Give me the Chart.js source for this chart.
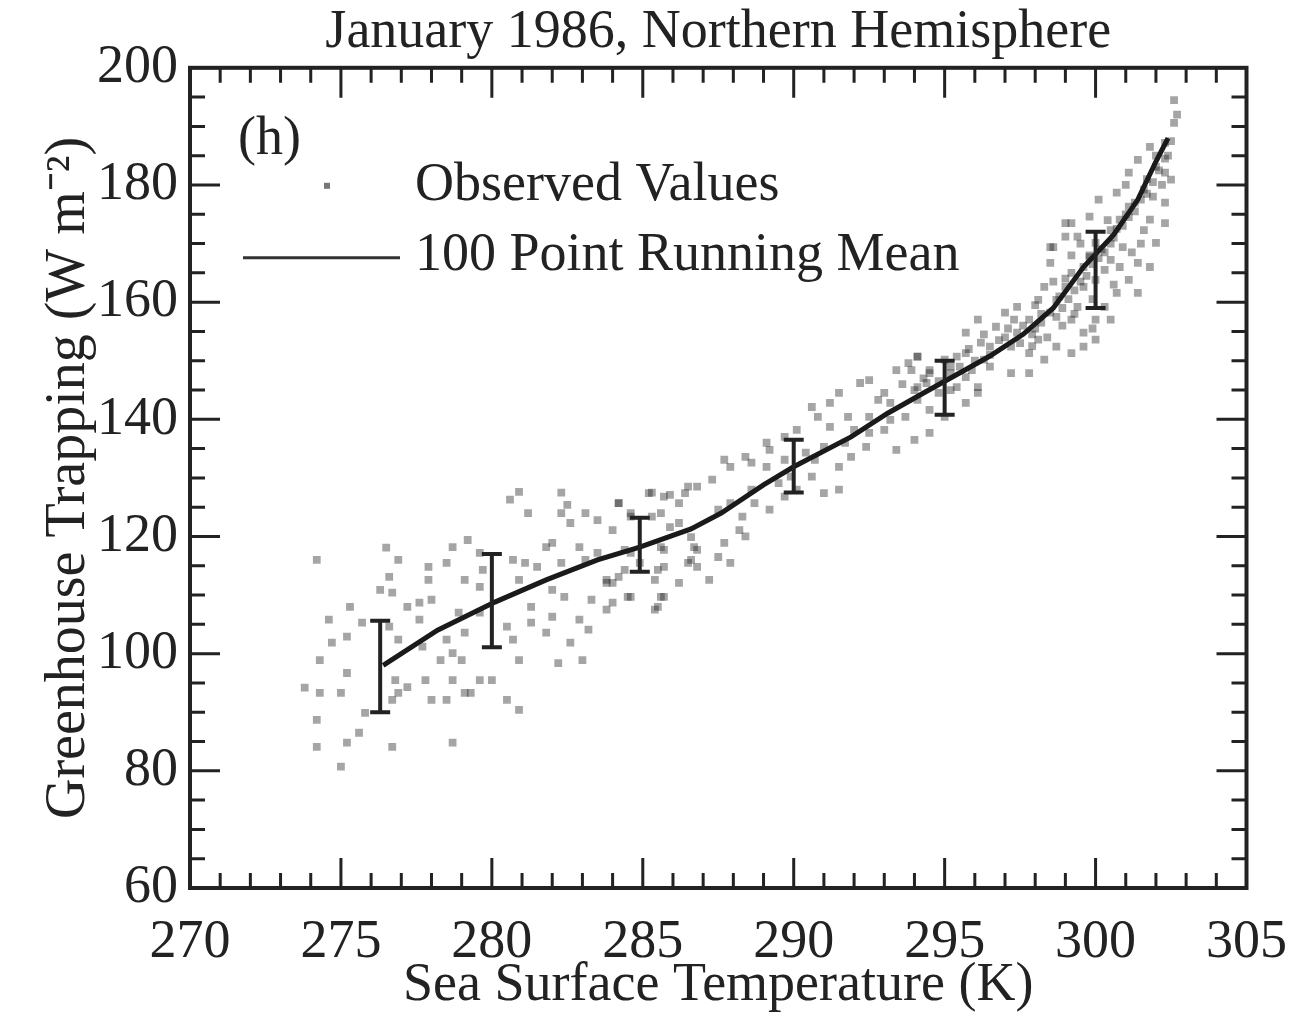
<!DOCTYPE html>
<html>
<head>
<meta charset="utf-8">
<script src="https://cdn.jsdelivr.net/npm/chart.js@4.4.1/dist/chart.umd.min.js"></script>
<style>
  html, body { margin: 0; padding: 0; background: #fff; }
  #wrap { width: 1301px; height: 1018px; }
</style>
</head>
<body>
<div id="wrap"><canvas id="chart"></canvas></div>
<script>
const observedPoints = [
  [280.9,127.6],[280.6,126.3],[282.3,127.5],[282.5,125.4],[284.2,125.7],[285.3,127.5],[285.9,127.1],[286.5,128.5],
  [281.2,124.0],[282.3,124.0],[283.1,124.0],[283.5,122.8],[284.0,121.1],[282.6,122.3],[284.6,124.0],[285.6,124.0],
  [285.9,121.6],[285.6,118.2],[285.7,114.8],[285.4,112.6],[284.5,109.7],[285.6,109.7],[285.5,108.0],[283.8,107.5],
  [283.3,109.2],[282.4,109.7],[282.0,110.9],[282.0,106.3],[282.9,105.8],[283.2,104.1],[282.6,101.9],[282.2,98.4],
  [283.0,98.9],[281.8,103.6],[281.3,105.3],[280.9,98.9],[280.9,90.4],[280.5,92.1],[279.1,93.3],[278.7,95.5],
  [277.8,95.5],[278.0,92.1],[278.5,92.1],[278.7,84.8],[276.9,93.3],[276.8,95.5],[276.7,92.1],[277.2,94.3],
  [275.2,96.7],[275.0,93.3],[274.3,93.3],[274.2,84.1],[275.2,84.8],[275.6,86.5],[276.7,84.1],[275.0,80.7],
  [275.8,89.9],[274.3,98.9],[274.7,101.9],[275.2,102.9],[275.3,108.0],[274.2,116.0],[276.5,118.1],[276.9,116.0],
  [276.6,113.1],[276.3,110.9],[275.7,105.3],[276.6,104.6],[276.9,102.4],[277.6,105.8],[277.7,101.2],[278.3,98.9],
  [278.5,102.4],[278.7,100.1],[279.0,98.9],[279.6,95.5],[279.3,93.3],[280.0,95.5],[277.9,114.8],[277.9,112.6],
  [278.5,115.5],[278.7,118.2],[279.2,119.4],[279.6,117.2],[279.1,112.6],[279.6,111.4],[279.7,114.3],[280.7,116.0],
  [280.9,112.6],[281.1,115.5],[281.5,114.8],[281.8,118.2],[282.0,118.9],[282.3,115.5],[282.9,118.2],[283.1,116.0],
  [283.5,117.2],[283.8,112.6],[284.0,112.1],[284.4,114.3],[284.6,117.2],[278.9,107.0],[279.6,107.0],[279.1,103.6],
  [280.5,104.6],[280.7,102.4],[281.3,108.0],[277.2,108.0],[276.7,110.4],[277.6,108.7],[278.0,109.2],[286.6,116.0],
  [286.7,118.2],[274.6,105.8],[273.8,94.2],[274.2,88.7],
  [287.7,133.1],[287.9,131.9],[288.4,133.6],[288.6,132.6],[289.1,136.0],[289.2,134.8],[289.7,137.0],[290.1,138.2],
  [290.6,142.1],[290.8,140.4],[291.2,142.8],[291.5,144.5],[291.8,140.4],[292.2,146.2],[292.5,146.7],[292.8,143.3],
  [293.4,148.4],[293.8,149.6],[294.1,150.7],[294.5,148.4],[295.2,145.0],[295.7,142.8],[294.5,137.7],[294.0,136.5],
  [293.4,134.8],[293.2,139.9],[292.4,135.3],[291.9,133.6],[291.5,131.9],[291.5,128.0],[291.0,127.4],[290.6,130.2],
  [290.1,128.0],[289.7,126.8],[289.2,124.6],[288.7,125.7],[288.3,123.4],[288.2,121.1],[287.7,118.9],[287.9,115.5],
  [287.2,112.6],[286.8,114.8],[286.8,117.7],[286.6,119.9],[286.2,122.3],[285.7,117.7],[285.5,114.3],[285.7,109.7],
  [285.4,107.5],[284.6,109.7],[284.0,108.7],[283.8,112.1],[284.2,113.1],[285.2,127.4],[285.7,126.8],[286.4,127.4],
  [286.8,128.5],[287.3,129.7],[284.2,125.7],[284.6,123.4],[285.3,123.4],[286.2,125.7],[289.1,131.9],[289.7,133.1],
  [290.4,134.3],[291.0,135.3],[291.2,138.7],[292.0,138.2],[292.5,140.4],[293.2,142.8],[293.7,140.4],[294.1,143.3],
  [294.5,141.6],[295.0,140.4],[295.7,147.2],[296.1,144.5],[296.3,150.2],[295.4,150.7],[294.4,146.2],[294.0,145.0],
  [293.0,138.2],[292.5,137.7],[291.7,136.0],[290.7,133.1],[289.9,130.2],[289.5,129.1],[288.6,128.0],[287.9,125.7],
  [287.5,124.6],[288.4,120.0],[287.5,116.5],[286.5,115.5],[286.2,112.1],[284.9,115.5],[284.4,117.7],
  [302.6,194.5],[302.6,190.6],[302.3,187.2],[301.8,186.5],[301.4,184.3],[302.0,183.1],[302.5,180.9],[301.1,182.1],
  [301.6,179.2],[302.3,177.0],[300.7,178.7],[300.1,177.5],[301.1,176.3],[301.8,174.1],[302.3,173.5],[302.0,170.1],
  [301.6,172.3],[300.8,174.1],[300.5,172.3],[299.8,174.6],[299.2,173.5],[299.0,171.2],[298.6,169.4],[298.5,166.7],
  [299.4,171.2],[300.0,170.1],[300.9,169.4],[301.4,166.7],[301.1,163.8],[300.5,167.2],[299.8,167.7],[299.6,166.0],
  [300.0,163.8],[300.7,161.6],[300.3,159.2],[299.6,162.6],[299.2,165.0],[299.0,162.6],[298.3,162.6],[298.1,160.4],
  [298.7,160.4],[299.4,159.2],[300.0,157.0],[299.6,154.8],[299.2,157.0],[298.5,158.2],[297.8,157.0],[297.4,159.2],
  [297.0,158.2],[296.7,155.8],[296.1,157.0],[295.7,154.8],[297.4,154.8],[298.1,153.6],[298.7,152.4],[299.2,151.3],
  [298.3,150.2],[297.8,151.3],[297.2,152.4],[296.5,152.4],[296.2,153.1],[295.7,151.3],[295.0,150.2],[294.1,150.7],
  [293.9,148.4],[294.5,147.9],[295.2,147.9],[295.9,148.4],[296.5,149.0],[297.2,147.9],[297.8,147.9],[296.1,145.5],
  [295.4,145.5],[294.8,144.5],[294.1,145.5],[299.6,152.4],[300.0,153.6],[300.5,157.0],[301.4,161.6],[301.8,166.0],
  [302.3,182.1],[299.0,173.5],[298.5,169.4],
  [299.8,168.0],[300.2,169.0],[300.6,171.0],[301.0,175.0],[301.3,177.0],[301.7,181.0],[302.0,185.0],[299.0,164.0],
  [298.8,161.0],[298.2,158.0],[297.6,156.0],[297.0,154.0],[296.5,151.0],[296.0,150.0],[295.5,149.0],[301.0,180.0],
  [300.4,174.0],[299.5,170.0],[299.2,168.0],[298.0,155.5],[297.3,157.0],[300.8,166.0],[300.3,165.5],[301.9,178.0],
  [302.2,180.0],[302.4,185.0],[301.5,170.0],[299.9,160.5],[298.9,156.0],[297.9,152.5],
  [296.8,153.5],[297.1,155.5],[297.5,153.0],[297.9,154.5],[298.2,156.5],[298.4,154.0],[298.7,157.5],[298.9,159.0],
  [299.1,160.5],[299.3,162.0],[299.5,163.5],[299.7,164.5],[299.9,166.5],[300.1,167.5],[300.3,168.5],[300.5,170.0],
  [300.7,172.5],[300.9,173.0],[301.1,174.5],[301.3,175.5],[301.5,177.5],[301.7,178.5],[301.9,180.5],[302.1,182.5],
  [302.3,184.5],[302.5,187.5],[302.7,192.0],[298.0,159.5],[298.6,163.5],[299.3,158.0],[299.9,155.5],[300.6,163.0],
  [301.2,168.5],[296.3,154.5],[295.8,152.0],[295.2,149.0],[294.8,146.5],[294.3,147.0],[293.6,146.0],[293.0,144.5]
];

// 100 point running mean
const meanX = [276.4, 278.2, 280.1, 281.8, 283.5, 284.9, 286.6, 287.6, 289.0, 290.0, 291.9, 293.1,
               294.3, 295.6, 296.5, 297.6, 298.6, 299.6, 300.6, 301.4, 302.0, 302.4];
const meanY = [98.0, 104.0, 108.8, 112.6, 116.0, 118.2, 121.3, 124.0, 128.8, 131.9, 137.0, 141.0,
               144.5, 148.2, 150.8, 154.5, 159.0, 166.0, 171.5, 177.5, 184.0, 188.0];

// error bars on the running mean
const errX = [276.3, 280.0, 284.9, 290.0, 295.0, 300.0];
const errLow = [90.0, 101.1, 114.0, 127.5, 140.8, 159.0];
const errHigh = [105.6, 117.0, 123.2, 136.5, 150.0, 172.0];

const xMin = 270, xMax = 305, xStep = 5, xMinor = 1;
const yMin = 60, yMax = 200, yStep = 20, yMinor = 5;

const FONT = "'Liberation Serif', 'Times New Roman', serif";

const frameTicks = {
  id: 'frameTicks',
  afterDraw(chart) {
    const ctx = chart.ctx;
    const a = chart.chartArea;
    const xs = chart.scales.x, ys = chart.scales.y;
    ctx.save();
    ctx.strokeStyle = '#222';
    ctx.lineWidth = 3;
    for (let v = xMin; v <= xMax + 1e-6; v += xMinor) {
      const px = xs.getPixelForValue(v);
      const len = (v % xStep === 0) ? 30 : 15;
      ctx.beginPath();
      ctx.moveTo(px, a.bottom); ctx.lineTo(px, a.bottom - len);
      ctx.moveTo(px, a.top); ctx.lineTo(px, a.top + len);
      ctx.stroke();
    }
    for (let v = yMin; v <= yMax + 1e-6; v += yMinor) {
      const py = ys.getPixelForValue(v);
      const len = (v % yStep === 0) ? 30 : 15;
      ctx.beginPath();
      ctx.moveTo(a.left, py); ctx.lineTo(a.left + len, py);
      ctx.moveTo(a.right, py); ctx.lineTo(a.right - len, py);
      ctx.stroke();
    }
    ctx.lineWidth = 4;
    ctx.strokeRect(a.left, a.top, a.right - a.left, a.bottom - a.top);
    ctx.restore();
  }
};

const errorBars = {
  id: 'errorBars',
  afterDatasetsDraw(chart) {
    const ctx = chart.ctx;
    const xs = chart.scales.x, ys = chart.scales.y;
    ctx.save();
    ctx.strokeStyle = '#222';
    ctx.lineWidth = 4;
    errX.forEach((x, i) => {
      const px = xs.getPixelForValue(x);
      const lo = ys.getPixelForValue(errLow[i]);
      const hi = ys.getPixelForValue(errHigh[i]);
      ctx.beginPath();
      ctx.moveTo(px, lo); ctx.lineTo(px, hi);
      ctx.moveTo(px - 10, lo); ctx.lineTo(px + 10, lo);
      ctx.moveTo(px - 10, hi); ctx.lineTo(px + 10, hi);
      ctx.stroke();
    });
    ctx.restore();
  }
};

const insideLabels = {
  id: 'insideLabels',
  afterDraw(chart) {
    const ctx = chart.ctx;
    const a = chart.chartArea;
    ctx.save();
    ctx.fillStyle = '#222';
    ctx.font = '54px ' + FONT;
    ctx.textBaseline = 'middle';
    ctx.textAlign = 'left';
    ctx.fillText('(h)', a.left + 48, a.top + 72);
    ctx.fillText('Observed Values', a.left + 225, a.top + 118);
    ctx.fillText('100 Point Running Mean', a.left + 225, a.top + 188);
    ctx.fillStyle = '#777';
    ctx.fillRect(a.left + 134, a.top + 115, 6, 6);
    ctx.strokeStyle = '#333';
    ctx.lineWidth = 3;
    ctx.beginPath();
    ctx.moveTo(a.left + 53, a.top + 190);
    ctx.lineTo(a.left + 210, a.top + 190);
    ctx.stroke();
    ctx.restore();
  }
};

new Chart(document.getElementById('chart'), {
  type: 'scatter',
  data: {
    datasets: [
      {
        label: '100 Point Running Mean',
        data: meanX.map((x, i) => ({ x: x, y: meanY[i] })),
        showLine: true,
        borderColor: '#1a1a1a',
        borderWidth: 5,
        pointRadius: 0,
        order: 0
      },
      {
        label: 'Observed Values',
        data: observedPoints.map(p => ({ x: p[0], y: p[1] })),
        pointStyle: 'rect',
        pointRadius: 5.5,
        backgroundColor: 'rgba(30,30,30,0.4)',
        borderWidth: 0,
        order: 1
      }
    ]
  },
  options: {
    responsive: true,
    maintainAspectRatio: false,
    animation: false,
    devicePixelRatio: 1,
    layout: { padding: { left: 0, right: 51, top: 0, bottom: 0 } },
    plugins: {
      legend: { display: false },
      tooltip: { enabled: false },
      title: {
        display: true,
        fullSize: false,
        text: 'January 1986, Northern Hemisphere',
        color: '#222',
        font: { family: FONT, size: 54, weight: 'normal', lineHeight: 1.2 },
        padding: { top: 0, bottom: 3 }
      }
    },
    scales: {
      x: {
        type: 'linear',
        min: xMin,
        max: xMax,
        grid: { display: false },
        border: { display: false },
        ticks: {
          stepSize: xStep,
          color: '#222',
          padding: 14,
          maxRotation: 0,
          font: { family: FONT, size: 54 }
        },
        title: {
          display: true,
          text: 'Sea Surface Temperature (K)',
          color: '#222',
          padding: 0,
          font: { family: FONT, size: 54, lineHeight: 1.2 }
        },
        afterFit(scale) { scale.height = 130; }
      },
      y: {
        type: 'linear',
        min: yMin,
        max: yMax,
        grid: { display: false },
        border: { display: false },
        ticks: {
          stepSize: yStep,
          color: '#222',
          padding: 4,
          font: { family: FONT, size: 54 }
        },
        title: {
          display: true,
          text: 'Greenhouse Trapping (W m\u207B\u00B2)',
          color: '#222',
          padding: { top: 36, bottom: 0 },
          font: { family: FONT, size: 56, lineHeight: 1.2 }
        },
        afterFit(scale) { scale.width = 190; }
      }
    }
  },
  plugins: [frameTicks, errorBars, insideLabels]
});
</script>
</body>
</html>
